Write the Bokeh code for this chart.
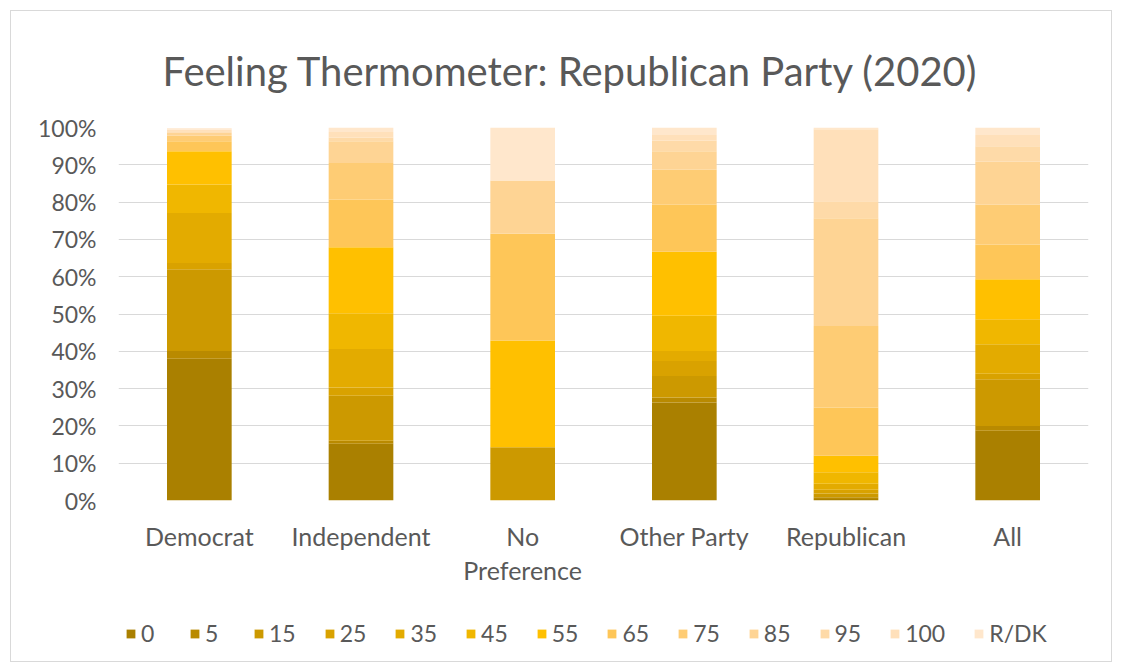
from bokeh.plotting import figure
from bokeh.layouts import column
from bokeh.models import (ColumnDataSource, FactorRange, Range1d, FixedTicker,
                          NumeralTickFormatter, Legend, LegendItem, CategoricalAxis,
                          CustomJSTickFormatter)
from bokeh.embed import file_html
from bokeh.resources import INLINE

categories = ["Democrat", "Independent", "No Preference", "Other Party", "Republican", "All"]
ratings = ["0", "5", "15", "25", "35", "45", "55", "65", "75", "85", "95", "100", "R/DK"]

# percent of respondents per rating, in the order of `ratings`
democrat     = [38.0, 2.1, 21.9, 1.7, 13.4, 7.6, 8.9, 2.7, 1.5, 0.8, 0.4, 0.4, 0.4]
independent  = [15.2, 0.8, 12.1, 2.2, 10.3, 9.6, 17.7, 12.8, 9.8, 5.8, 1.0, 1.5, 1.2]
no_pref      = [0.0, 0.0, 14.3, 0.0, 0.0, 0.0, 28.6, 28.6, 0.0, 14.3, 0.0, 0.0, 14.2]
other_party  = [26.3, 1.3, 5.8, 4.0, 2.7, 9.4, 17.2, 12.6, 9.4, 4.9, 2.9, 1.5, 2.0]
republican   = [0.4, 0.5, 1.0, 1.0, 1.6, 3.1, 4.4, 12.9, 21.9, 28.9, 4.5, 19.3, 0.5]
all_resp     = [18.7, 1.3, 12.5, 1.5, 7.9, 6.7, 10.7, 9.3, 10.7, 11.6, 4.1, 3.0, 2.0]

y_ticks = [0.0, 0.1, 0.2, 0.3, 0.4, 0.5, 0.6, 0.7, 0.8, 0.9, 1.0]

colors = ["#AA8000", "#B98A00", "#CC9900", "#D9A200", "#E3AB00", "#F0B700", "#FFC000",
          "#FEC658", "#FECC74", "#FED494", "#FEDAA8", "#FFE0BA", "#FFE7CC"]

groups = [democrat, independent, no_pref, other_party, republican, all_resp]
data = {"cat": categories}
for i, k in enumerate(ratings):
    data[k] = [g[i] / 100.0 for g in groups]
source = ColumnDataSource(data)

FONT = "Lato"
GREY = "#595959"

p = figure(width=1100, height=590, x_range=FactorRange(*categories),
           y_range=Range1d(0, 1), output_backend="svg", toolbar_location=None,
           min_border_left=107, min_border_right=23, min_border_top=116,
           min_border_bottom=101)
p.outline_line_color = None

renderers = p.vbar_stack(ratings, x="cat", width=0.4, color=colors, source=source,
                         line_color=None)

p.title.text = "Feeling Thermometer: Republican Party (2020)"
p.title.align = "left"
p.title.offset = 44
p.title.text_font = FONT
p.title.text_font_size = "40px"
p.title.text_font_style = "normal"
p.title.text_color = GREY
p.title.standoff = 66

p.xgrid.grid_line_color = None
p.ygrid.grid_line_color = "#D9D9D9"
p.ygrid.grid_line_width = 1
p.yaxis.ticker = FixedTicker(ticks=y_ticks)
p.yaxis.formatter = NumeralTickFormatter(format="0%")

# category labels: "No Preference" wraps onto a second line
x1 = p.xaxis[0]
x1.formatter = CustomJSTickFormatter(code="return tick == 'No Preference' ? 'No' : tick;")
x2 = CategoricalAxis(formatter=CustomJSTickFormatter(
    code="return tick == 'No Preference' ? 'Preference' : '';"))
p.add_layout(x2, "below")

for ax in (x1, x2, p.yaxis[0]):
    ax.axis_line_color = None
    ax.major_tick_line_color = None
    ax.minor_tick_line_color = None
    ax.major_tick_out = 0
    ax.minor_tick_out = 0
    ax.major_label_text_font = FONT
    ax.major_label_text_font_size = "25px"
    ax.major_label_text_color = GREY
p.yaxis.major_label_text_font_size = "23px"
p.yaxis.major_label_standoff = 22
x1.major_label_standoff = 20
x2.major_label_standoff = 1

# legend strip below the chart (its bars lie outside the strip's y range)
p2 = figure(width=1100, height=60, x_range=FactorRange(*categories),
            y_range=Range1d(5, 6), output_backend="svg", toolbar_location=None,
            x_axis_location=None, y_axis_location=None,
            min_border_left=0, min_border_right=0, min_border_top=0,
            min_border_bottom=0)
p2.grid.grid_line_color = None
p2.outline_line_color = None
swatches = p2.vbar_stack(ratings, x="cat", width=0.4, color=colors, source=source,
                         line_color=None)
items = [LegendItem(label=k, renderers=[r]) for k, r in zip(ratings, swatches)]
legend = Legend(items=items, orientation="horizontal", location=(7, 14),
                label_text_font=FONT, label_text_font_size="23px",
                label_text_color=GREY, glyph_width=11, glyph_height=11,
                label_standoff=5, spacing=28, border_line_color=None,
                background_fill_alpha=0, padding=0, margin=0)
p2.add_layout(legend, "center")

layout = column(p, p2, spacing=0,
                styles={"margin-left": "10px", "margin-top": "10px",
                        "border": "1px solid #D9D9D9", "background": "white"})

open("out.html", "w").write(file_html(layout, INLINE))
